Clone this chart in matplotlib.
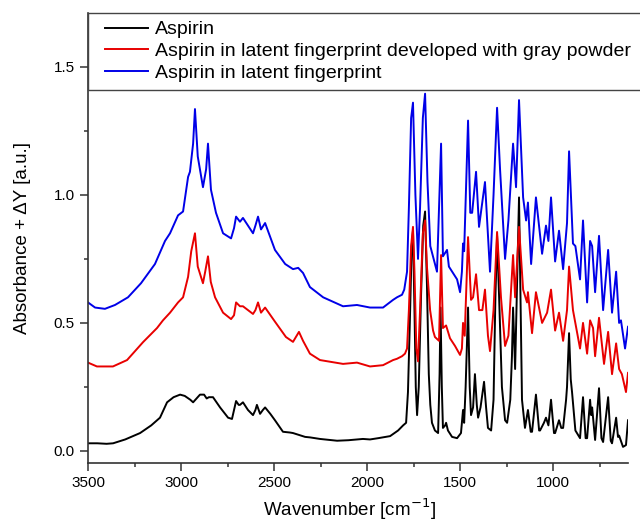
import matplotlib
matplotlib.use('Agg')
from matplotlib import pyplot as plt
from matplotlib.ticker import MultipleLocator, FormatStrFormatter
from matplotlib.legend_handler import HandlerLine2D

plt.rcParams['font.family'] = ['Liberation Sans', 'DejaVu Sans']

#Spectra: (wavenumber, absorbance + offset)
black_wn = [3500, 3450, 3400, 3365, 3300, 3220, 3160, 3113, 3075, 3040, 3005, 2980, 2950, 2935, 2910,
            2898, 2876, 2862, 2850, 2828, 2790, 2747, 2726, 2712, 2704, 2690, 2683, 2667, 2640, 2613,
            2600, 2592, 2575, 2560, 2548, 2520, 2495, 2452, 2414, 2398, 2333, 2306, 2253, 2161, 2100,
            2022, 1984, 1940, 1876, 1833, 1806, 1790, 1780, 1770, 1760, 1753, 1745, 1738, 1731, 1722,
            1710, 1698, 1688, 1678, 1668, 1660, 1651, 1635, 1618, 1610, 1605, 1598, 1592, 1580, 1575,
            1565, 1543, 1516, 1495, 1484, 1478, 1470, 1457, 1448, 1441, 1430, 1420, 1410, 1403, 1390,
            1371, 1360, 1350, 1333, 1320, 1310, 1301, 1290, 1275, 1258, 1247, 1230, 1221, 1215, 1204,
            1192, 1183, 1175, 1167, 1151, 1135, 1120, 1113, 1092, 1075, 1070, 1049, 1038, 1025, 1011,
            995, 989, 968, 956, 946, 930, 925, 914, 905, 898, 880, 855, 839, 825, 817,
            801, 795, 790, 774, 753, 740, 731, 704, 690, 683, 661, 651, 645, 624, 608, 597]
black_ab = [0.03, 0.03, 0.028, 0.03, 0.045, 0.07, 0.10, 0.13, 0.19, 0.21, 0.22, 0.215, 0.20, 0.19, 0.21,
            0.22, 0.22, 0.205, 0.21, 0.21, 0.17, 0.13, 0.125, 0.17, 0.195, 0.18, 0.18, 0.19, 0.16, 0.14,
            0.16, 0.18, 0.145, 0.16, 0.17, 0.145, 0.12, 0.075, 0.072, 0.07, 0.055, 0.053, 0.047, 0.04, 0.042,
            0.047, 0.045, 0.05, 0.058, 0.08, 0.10, 0.11, 0.23, 0.50, 0.80, 0.86, 0.55, 0.25, 0.14, 0.25,
            0.60, 0.88, 0.935, 0.65, 0.30, 0.18, 0.11, 0.08, 0.07, 0.30, 0.56, 0.25, 0.09, 0.10, 0.11,
            0.08, 0.055, 0.05, 0.07, 0.16, 0.11, 0.25, 0.56, 0.25, 0.14, 0.17, 0.30, 0.18, 0.13, 0.17,
            0.27, 0.17, 0.09, 0.08, 0.20, 0.60, 0.84, 0.60, 0.25, 0.12, 0.11, 0.20, 0.37, 0.56, 0.32,
            0.70, 0.99, 0.60, 0.20, 0.09, 0.16, 0.075, 0.075, 0.22, 0.08, 0.08, 0.11, 0.13, 0.10, 0.20,
            0.07, 0.07, 0.12, 0.09, 0.09, 0.20, 0.25, 0.46, 0.28, 0.23, 0.08, 0.05, 0.21, 0.05, 0.05,
            0.20, 0.14, 0.17, 0.043, 0.245, 0.05, 0.035, 0.21, 0.04, 0.03, 0.13, 0.055, 0.06, 0.016, 0.023, 0.12]

red_wn = [3500, 3452, 3366, 3290, 3204, 3129, 3097, 3059, 3016, 2989, 2962, 2945, 2925, 2910, 2882,
          2870, 2855, 2840, 2817, 2774, 2731, 2715, 2704, 2683, 2667, 2613, 2600, 2586, 2570, 2548,
          2495, 2436, 2398, 2366, 2344, 2307, 2253, 2129, 2054, 1984, 1914, 1860, 1839, 1812, 1796,
          1785, 1775, 1763, 1753, 1745, 1735, 1726, 1715, 1700, 1688, 1678, 1661, 1645, 1635, 1613,
          1602, 1592, 1575, 1554, 1527, 1500, 1490, 1484, 1475, 1457, 1441, 1430, 1414, 1398, 1380,
          1366, 1350, 1339, 1320, 1301, 1280, 1258, 1240, 1215, 1204, 1183, 1161, 1140, 1135, 1113,
          1092, 1059, 1032, 1011, 989, 968, 946, 925, 914, 893, 855, 839, 817, 801, 785,
          774, 753, 726, 704, 683, 661, 645, 630, 608, 597]
red_ab = [0.345, 0.33, 0.33, 0.355, 0.425, 0.48, 0.51, 0.54, 0.58, 0.60, 0.68, 0.78, 0.85, 0.72, 0.655,
          0.70, 0.76, 0.66, 0.60, 0.54, 0.515, 0.53, 0.58, 0.565, 0.565, 0.535, 0.55, 0.58, 0.54, 0.56,
          0.505, 0.445, 0.426, 0.465, 0.43, 0.38, 0.355, 0.34, 0.345, 0.33, 0.335, 0.355, 0.36, 0.37, 0.38,
          0.40, 0.55, 0.80, 0.875, 0.70, 0.40, 0.35, 0.55, 0.85, 0.90, 0.72, 0.55, 0.47, 0.445, 0.43,
          0.765, 0.48, 0.49, 0.44, 0.41, 0.375, 0.40, 0.50, 0.45, 0.835, 0.59, 0.60, 0.69, 0.55, 0.55,
          0.63, 0.45, 0.39, 0.55, 0.855, 0.60, 0.41, 0.45, 0.765, 0.60, 0.875, 0.63, 0.58, 0.62, 0.46,
          0.62, 0.50, 0.54, 0.63, 0.47, 0.54, 0.43, 0.55, 0.72, 0.55, 0.40, 0.50, 0.38, 0.51, 0.48,
          0.37, 0.52, 0.34, 0.465, 0.30, 0.42, 0.32, 0.30, 0.23, 0.305]

blue_wn = [3500, 3462, 3409, 3355, 3285, 3215, 3140, 3086, 3059, 3016, 2989, 2962, 2952, 2935, 2925,
           2910, 2882, 2865, 2855, 2839, 2812, 2774, 2731, 2715, 2704, 2683, 2667, 2613, 2600, 2586,
           2570, 2548, 2495, 2440, 2398, 2370, 2344, 2307, 2236, 2129, 2054, 1984, 1914, 1860, 1839,
           1812, 1800, 1785, 1775, 1763, 1753, 1740, 1726, 1715, 1700, 1688, 1675, 1660, 1624, 1602,
           1592, 1570, 1560, 1516, 1500, 1490, 1484, 1478, 1457, 1445, 1435, 1414, 1398, 1366, 1339,
           1320, 1301, 1285, 1258, 1240, 1215, 1199, 1183, 1161, 1145, 1135, 1118, 1092, 1059, 1038,
           1025, 1011, 989, 968, 946, 925, 914, 893, 880, 855, 839, 817, 801, 790, 774,
           753, 731, 704, 683, 661, 645, 635, 613, 597]
blue_ab = [0.58, 0.56, 0.555, 0.57, 0.60, 0.655, 0.73, 0.82, 0.85, 0.92, 0.935, 1.07, 1.09, 1.20, 1.335,
           1.15, 1.03, 1.10, 1.20, 1.02, 0.93, 0.85, 0.83, 0.87, 0.915, 0.895, 0.91, 0.85, 0.88, 0.915,
           0.865, 0.89, 0.785, 0.73, 0.71, 0.715, 0.695, 0.64, 0.60, 0.565, 0.57, 0.56, 0.56, 0.59, 0.60,
           0.61, 0.63, 0.70, 0.95, 1.30, 1.36, 1.00, 0.75, 0.95, 1.30, 1.395, 1.05, 0.80, 0.70, 1.20,
           0.76, 0.785, 0.72, 0.67, 0.62, 0.70, 0.81, 0.78, 1.29, 0.93, 0.93, 1.09, 0.875, 1.05, 0.70,
           1.00, 1.34, 1.10, 0.75, 0.90, 1.20, 1.03, 1.37, 0.99, 0.90, 0.97, 0.73, 0.99, 0.77, 0.88,
           0.82, 0.99, 0.74, 0.86, 0.71, 0.89, 1.17, 0.81, 0.80, 0.67, 0.90, 0.58, 0.82, 0.80, 0.62,
           0.84, 0.55, 0.785, 0.54, 0.70, 0.50, 0.51, 0.40, 0.485]

labels = ['Aspirin', 'Aspirin in latent fingerprint developed with gray powder', 'Aspirin in latent fingerprint']

fig = plt.figure(figsize=(6.4, 5.23), dpi=100)
ax = fig.add_axes([0.1375, 0.1147, 0.8438, 0.8604])
l1, = ax.plot(black_wn, black_ab, color='black', lw=1.4)
l2, = ax.plot(red_wn, red_ab, color='#e80000', lw=1.4)
l3, = ax.plot(blue_wn, blue_ab, color='#0000e8', lw=1.4)

ax.set_xlim(3500, 597)
ax.set_ylim(-0.047, 1.71)
ax.xaxis.set_major_locator(MultipleLocator(500))
ax.xaxis.set_minor_locator(MultipleLocator(250))
ax.yaxis.set_major_locator(MultipleLocator(0.5))
ax.yaxis.set_minor_locator(MultipleLocator(0.25))
ax.yaxis.set_major_formatter(FormatStrFormatter('%.1f'))
for s in ['top', 'right']:
    ax.spines[s].set_visible(False)
for s in ['left', 'bottom']:
    ax.spines[s].set_linewidth(1.2)
    ax.spines[s].set_color('#333333')
ax.tick_params(which='major', direction='out', length=6, width=1.1, labelsize=11, color='#333333')
ax.tick_params(which='minor', direction='out', length=3, width=1.1, color='#333333')

ax.set_xlabel('Wavenumber [cm$^{-1}$]', fontsize=13.5)
ax.xaxis.set_label_coords(0.484, -0.074)
ax.set_ylabel('Absorbance + ΔY [a.u.]', fontsize=13.5)
ax.yaxis.set_label_coords(-0.106, 0.5)

#extra space before the legend lines
hm = {l: HandlerLine2D(xpad=0.48) for l in (l1, l2, l3)}
leg = ax.legend([l1, l2, l3], labels, loc='upper left', bbox_to_anchor=(0, 0, 1.03, 1),
                mode='expand', borderaxespad=0, fancybox=False, fontsize=14, handlelength=2.68,
                handletextpad=0.36, labelspacing=0.22, borderpad=0.4, framealpha=1, handler_map=hm)
leg.get_frame().set_edgecolor('#444444')
leg.get_frame().set_linewidth(1.0)

plt.savefig('out.png', dpi=100)
